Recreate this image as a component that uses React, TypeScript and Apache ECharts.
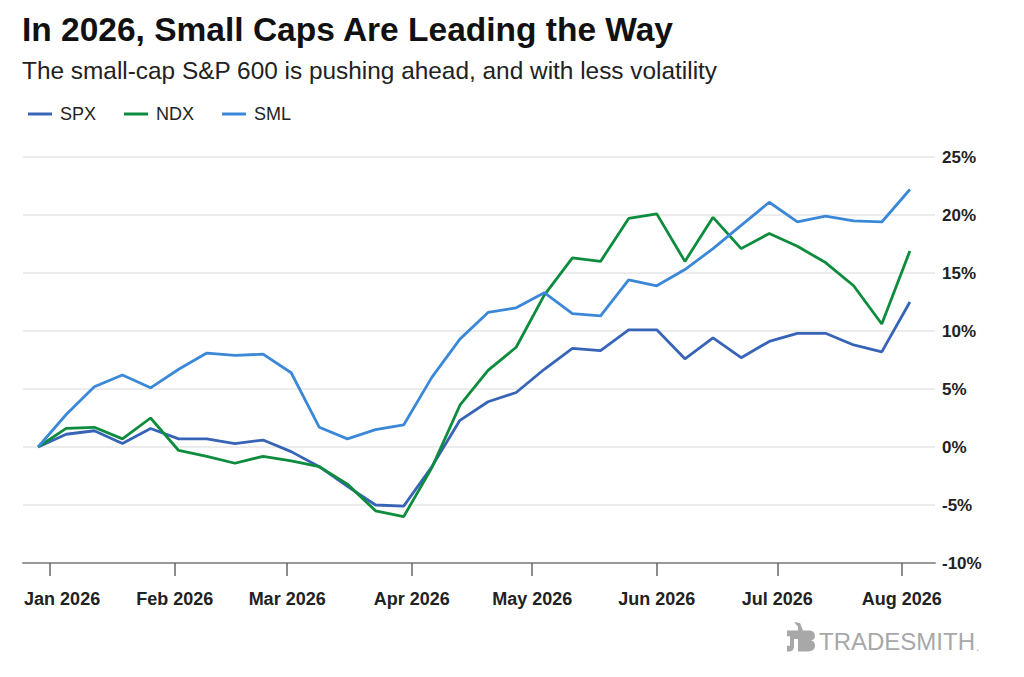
import React, { useEffect, useRef } from 'react';
import * as echarts from 'echarts';

// weekly closes, % change since the first week
const weekDates = [
  '2025-12-29', '2026-01-05', '2026-01-12', '2026-01-19', '2026-01-26',
  '2026-02-02', '2026-02-09', '2026-02-16', '2026-02-23', '2026-03-02',
  '2026-03-09', '2026-03-16', '2026-03-23', '2026-03-30', '2026-04-06',
  '2026-04-13', '2026-04-20', '2026-04-27', '2026-05-04', '2026-05-11',
  '2026-05-18', '2026-05-25', '2026-06-01', '2026-06-08', '2026-06-15',
  '2026-06-22', '2026-06-29', '2026-07-06', '2026-07-13', '2026-07-20',
  '2026-07-27', '2026-08-03',
];

const spx = [
  0, 1.1, 1.4, 0.3, 1.6, 0.7, 0.7, 0.3, 0.6, -0.4,
  -1.7, -3.4, -5.0, -5.1, -1.7, 2.3, 3.9, 4.7, 6.7, 8.5,
  8.3, 10.1, 10.1, 7.6, 9.4, 7.7, 9.1, 9.8, 9.8, 8.8,
  8.2, 12.5,
];

const ndx = [
  0, 1.6, 1.7, 0.7, 2.5, -0.3, -0.8, -1.4, -0.8, -1.2,
  -1.7, -3.2, -5.5, -6.0, -1.8, 3.6, 6.6, 8.6, 13.1, 16.3,
  16.0, 19.7, 20.1, 16.0, 19.8, 17.1, 18.4, 17.3, 15.9, 13.9,
  10.6, 16.9,
];

const sml = [
  0, 2.8, 5.2, 6.2, 5.1, 6.7, 8.1, 7.9, 8.0, 6.4,
  1.7, 0.7, 1.5, 1.9, 6.0, 9.3, 11.6, 12.0, 13.3, 11.5,
  11.3, 14.4, 13.9, 15.3, 17.1, 19.1, 21.1, 19.4, 19.9, 19.5,
  19.4, 22.2,
];

const monthStarts = [
  '2026-01-01', '2026-02-01', '2026-03-01', '2026-04-01',
  '2026-05-01', '2026-06-01', '2026-07-01', '2026-08-01',
];
const monthLabels = [
  'Jan 2026', 'Feb 2026', 'Mar 2026', 'Apr 2026',
  'May 2026', 'Jun 2026', 'Jul 2026', 'Aug 2026',
];

const FONT = '"Liberation Sans", Arial, Helvetica, sans-serif';

const toTs = (s: string, h = 0) => {
  const [y, m, d] = s.split('-').map(Number);
  return new Date(y, m - 1, d, h).getTime();
};

const LOGO_PATH =
  'M2 9 L13 9 L13 5 L9 0 L15 1 L18 9 L23 9 C28 9 30 11 30 15 C30 18 28 19 26 19.5 ' +
  'C29 20 30 22 30 25 C30 29 27 31 23 31 L13 31 L13 18 L9 18 L9 26 C9 29 7 31 4 31 ' +
  'L2 31 L2 25 L5 25 L5 15 L2 15 Z';

echarts.graphic.registerShape('logo', echarts.graphic.extendPath(LOGO_PATH, {}));

export default function App() {
  const chartRef = useRef<HTMLDivElement>(null);

  useEffect(() => {
    document.body.style.margin = '0';
    if (!chartRef.current) return;
    const chart = echarts.init(chartRef.current, undefined, { renderer: 'svg' });

    const weekTs = weekDates.map((d) => toTs(d));
    const monthTs = monthStarts.map((d) => toTs(d));
    const mk = (vals: number[]) => weekTs.map((t, i) => [t, vals[i]]);

    chart.setOption({
      animation: false,
      backgroundColor: '#fff',
      textStyle: { fontFamily: FONT },
      title: {
        text: 'In 2026, Small Caps Are Leading the Way',
        subtext: 'The small-cap S&P 600 is pushing ahead, and with less volatility',
        left: 22,
        top: 12,
        padding: 0,
        itemGap: 12,
        textStyle: { fontFamily: FONT, fontSize: 33.5, fontWeight: 'bold', color: '#111' },
        subtextStyle: { fontFamily: FONT, fontSize: 24.4, color: '#222' },
      },
      legend: {
        data: ['SPX', 'NDX', 'SML'],
        left: 28,
        top: 105,
        padding: 0,
        icon: 'rect',
        itemWidth: 24,
        itemHeight: 3,
        itemGap: 28,
        textStyle: { fontFamily: FONT, fontSize: 18, color: '#222', padding: [0, 0, 0, 3] },
      },
      grid: { left: 23, right: 89, top: 157, bottom: 114 },
      xAxis: {
        type: 'value',
        min: toTs('2025-12-25', 6),
        max: toTs('2026-08-09', 6),
        axisLine: { onZero: false, lineStyle: { color: '#999', width: 2 } },
        axisTick: {
          show: true,
          length: 13,
          customValues: monthTs,
          lineStyle: { color: '#666', width: 1.5 },
        },
        axisLabel: {
          customValues: monthTs,
          margin: 27,
          formatter: (v: number) => {
            const i = monthTs.indexOf(v);
            const label = i >= 0 ? monthLabels[i] : '';
            return i === 0 ? `{first|${label}}` : `{m|${label}}`;
          },
          rich: {
            m: { fontFamily: FONT, fontSize: 18, fontWeight: 'bold', color: '#222' },
            first: {
              fontFamily: FONT,
              fontSize: 18,
              fontWeight: 'bold',
              color: '#222',
              padding: [0, 0, 0, 24],
            },
          },
        },
        splitLine: { show: false },
      },
      yAxis: {
        type: 'value',
        position: 'right',
        min: -10,
        max: 25,
        interval: 5,
        axisLine: { show: false },
        axisTick: { show: false },
        axisLabel: {
          formatter: '{value}%',
          margin: 7,
          fontFamily: FONT,
          fontSize: 17,
          fontWeight: 'bold',
          color: '#222',
        },
        splitLine: { lineStyle: { color: '#e6e6e6', width: 1.5 } },
      },
      series: [
        {
          name: 'SPX',
          type: 'line',
          data: mk(spx),
          showSymbol: false,
          color: '#3764b7',
          lineStyle: { width: 2.8, color: '#3764b7' },
          z: 3,
        },
        {
          name: 'NDX',
          type: 'line',
          data: mk(ndx),
          showSymbol: false,
          color: '#0c8c3c',
          lineStyle: { width: 2.8, color: '#0c8c3c' },
          z: 4,
        },
        {
          name: 'SML',
          type: 'line',
          data: mk(sml),
          showSymbol: false,
          color: '#3b88d8',
          lineStyle: { width: 2.8, color: '#3b88d8' },
          z: 5,
        },
      ],
      graphic: [
        {
          type: 'logo',
          x: 785,
          y: 622,
          scaleX: 1,
          scaleY: 0.95,
          style: { fill: '#a8a8a8' },
        },
        {
          type: 'text',
          left: 819,
          top: 629,
          style: {
            text: 'TRADESMITH',
            fontFamily: FONT,
            fontSize: 24,
            fill: '#a8a8a8',
          },
        },
        {
          type: 'text',
          left: 976,
          top: 641,
          style: { text: '.', fontFamily: FONT, fontSize: 12, fill: '#a8a8a8' },
        },
      ],
    });

    return () => {
      chart.dispose();
    };
  }, []);

  return <div ref={chartRef} style={{ width: 1024, height: 677 }} />;
}
